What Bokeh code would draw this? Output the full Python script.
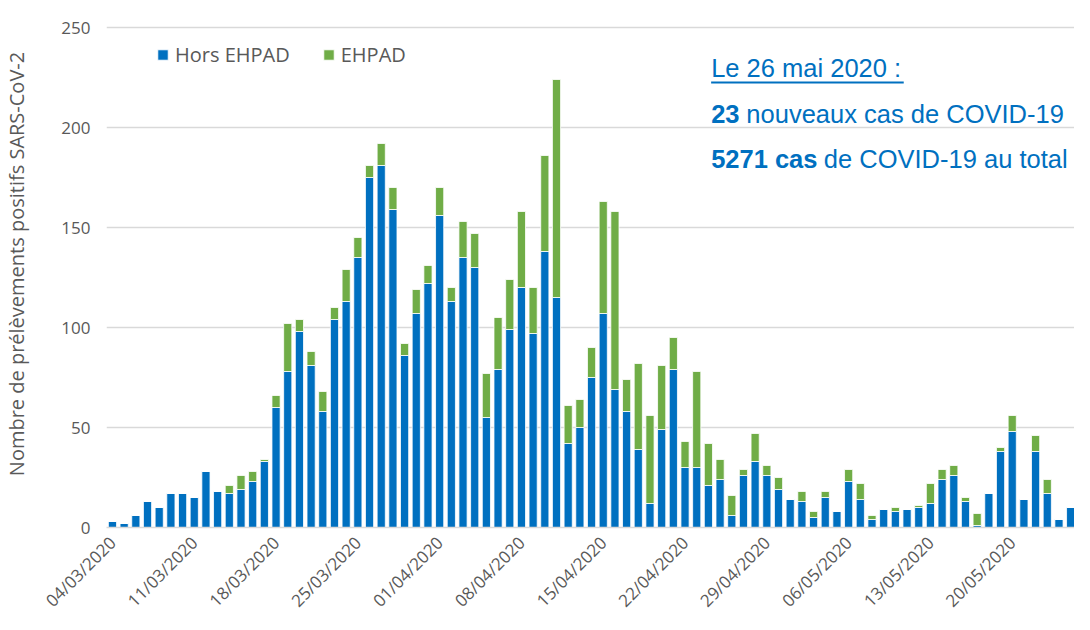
import math
import datetime
from bokeh.plotting import figure
from bokeh.models import (ColumnDataSource, Range1d, FixedTicker, Legend, LegendItem,
                          Label, BoxAnnotation)
from bokeh.embed import file_html
from bokeh.resources import INLINE

# ---------------- data ----------------
start = datetime.date(2020, 3, 4)
n_days = 84
dates = [(start + datetime.timedelta(days=i)).strftime("%d/%m/%Y") for i in range(n_days)]

hors_ehpad = [3, 2, 6, 13, 10, 17, 17, 15, 28, 18,
              17, 19, 23, 33, 60, 78, 98, 81, 58, 104,
              113, 135, 175, 181, 159, 86, 107, 122, 156, 113,
              135, 130, 55, 79, 99, 120, 97, 138, 115, 42,
              50, 75, 107, 69, 58, 39, 12, 49, 79, 30,
              30, 21, 24, 6, 26, 33, 26, 19, 14, 13,
              5, 15, 8, 23, 14, 4, 9, 8, 9, 10,
              12, 24, 26, 13, 1, 17, 38, 48, 14, 38,
              17, 4, 10, 21]
ehpad = [0, 0, 0, 0, 0, 0, 0, 0, 0, 0,
         4, 7, 5, 1, 6, 24, 6, 7, 10, 6,
         16, 10, 6, 11, 11, 6, 12, 9, 14, 7,
         18, 17, 22, 26, 25, 38, 23, 48, 109, 19,
         14, 15, 56, 89, 16, 43, 44, 32, 16, 13,
         48, 21, 10, 10, 3, 14, 5, 6, 0, 5,
         3, 3, 0, 6, 8, 2, 0, 2, 0, 1,
         10, 5, 5, 2, 6, 0, 2, 8, 0, 8,
         7, 0, 0, 2]

tick_labels = ["04/03/2020", "11/03/2020", "18/03/2020", "25/03/2020", "01/04/2020",
               "08/04/2020", "15/04/2020", "22/04/2020", "29/04/2020", "06/05/2020",
               "13/05/2020", "20/05/2020"]
y_ticks = [0, 50, 100, 150, 200, 250]

series_names = ["Hors EHPAD", "EHPAD"]
colors = ["#0070C0", "#70AD47"]

headline_date = "Le 26 mai 2020 :"
new_cases = "23"
total_cases = "5271"

# ---------------- figure ----------------
W, H = 1074, 622
X0, X1 = -0.51, 82.33
Y1 = 263.5
p = figure(width=W, height=H, output_backend="svg", toolbar_location=None,
           x_range=Range1d(X0, X1), y_range=Range1d(0, Y1),
           min_border_left=99, min_border_right=0, min_border_top=0, min_border_bottom=95)
p.outline_line_color = None
p.background_fill_color = "white"
p.border_fill_color = "white"

src = ColumnDataSource(dict(x=list(range(n_days)), hors=hors_ehpad, ehpad=ehpad))
rs = p.vbar_stack(["hors", "ehpad"], x="x", width=0.7, color=colors, source=src,
                  line_color="white", line_width=0.8)

# axes
p.xgrid.grid_line_color = None
p.ygrid.grid_line_color = "#D9D9D9"
p.ygrid.grid_line_width = 1.5

p.yaxis.ticker = FixedTicker(ticks=y_ticks)
p.yaxis.axis_line_color = None
p.yaxis.major_tick_line_color = None
p.yaxis.minor_tick_line_color = None
p.yaxis.major_tick_out = 0
p.yaxis.major_label_text_font = "Open Sans"
p.yaxis.major_label_text_font_size = "17px"
p.yaxis.major_label_text_color = "#595959"
p.yaxis.major_label_standoff = 16
p.yaxis.axis_label = "Nombre de prélèvements positifs SARS-CoV-2"
p.yaxis.axis_label_text_font = "Open Sans"
p.yaxis.axis_label_text_font_style = "normal"
p.yaxis.axis_label_text_font_size = "20px"
p.yaxis.axis_label_text_color = "#595959"
p.yaxis.axis_label_standoff = 28

tick_pos = [dates.index(t) for t in tick_labels]
p.xaxis.ticker = FixedTicker(ticks=tick_pos)
p.xaxis.major_label_overrides = {i: t for i, t in zip(tick_pos, tick_labels)}
p.xaxis.major_label_orientation = math.pi / 4
p.xaxis.axis_line_color = "#D9D9D9"
p.xaxis.axis_line_width = 1.5
p.xaxis.major_tick_line_color = None
p.xaxis.minor_tick_line_color = None
p.xaxis.major_tick_out = 0
p.xaxis.major_tick_in = 0
p.xaxis.major_label_text_font = "Open Sans"
p.xaxis.major_label_text_font_size = "17px"
p.xaxis.major_label_text_color = "#595959"
p.xaxis.major_label_standoff = 12

# legend
legend = Legend(items=[LegendItem(label=series_names[0], renderers=[rs[0]]),
                       LegendItem(label=series_names[1], renderers=[rs[1]])],
                orientation="horizontal", location=(50, 459),
                padding=0, margin=0, spacing=32, label_standoff=6,
                glyph_width=13, glyph_height=13,
                border_line_color=None, background_fill_alpha=0,
                label_text_font="Open Sans", label_text_font_size="20px",
                label_text_color="#595959")
p.add_layout(legend)


# annotation (page pixel -> data helpers for layout only)
def px2x(px):
    return (px - 8 - 99) / 975.0 * (X1 - X0) + X0


def py2y(py):
    return (527 - py) / 2.0


blue = "#0070C0"
fnt = "Liberation Sans"
fs = "25.5px"
pieces = [
    (headline_date, 716, 67, "normal"),
    (new_cases, 716, 113, "bold"),
    ("nouveaux cas de COVID-19", 751.5, 113, "normal"),
    (total_cases + " cas", 716, 158, "bold"),
    ("de COVID-19 au total", 829.5, 158, "normal"),
]
for txt, px, py, style in pieces:
    p.add_layout(Label(x=px2x(px), y=py2y(py), text=txt, text_font=fnt, text_font_size=fs,
                       text_font_style=style, text_color=blue, text_baseline="middle",
                       text_align="left"))
p.add_layout(BoxAnnotation(left=px2x(716), right=px2x(910), bottom=py2y(83), top=py2y(81),
                           fill_color=blue, fill_alpha=1, line_color=None))

open("out.html", "w").write(file_html(p, INLINE))
